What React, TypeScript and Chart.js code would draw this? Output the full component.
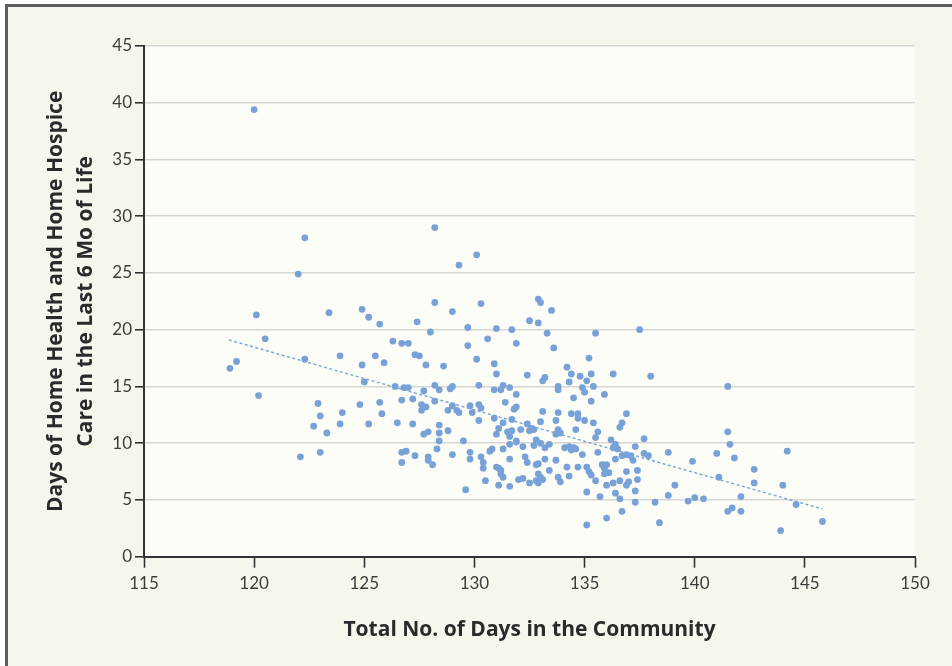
import React, { useEffect, useRef } from "react";
import { Chart, registerables } from "chart.js";

Chart.register(...registerables);

const X_MIN = 115;
const X_MAX = 150;
const X_STEP = 5;
const Y_MIN = 0;
const Y_MAX = 45;
const Y_STEP = 5;

const xTitle = "Total No. of Days in the Community";
const yTitle = ["Days of Home Health and Home Hospice", "Care in the Last 6 Mo of Life"];

const communityDays = [
  120.0, 122.3, 128.2, 122.0, 129.3, 120.1, 123.4, 124.9, 125.2, 128.2, 129.0, 127.4,
  130.1, 130.3, 132.9, 133.0, 133.5, 132.5, 132.9, 129.7, 131.0, 131.7, 133.3, 135.5,
  137.5, 130.6, 129.7, 131.9, 133.6, 130.1, 130.9, 128.6, 134.2, 135.2, 134.4, 134.8,
  135.3, 136.3, 131.0, 132.4, 133.2, 135.1,
  135.4, 129.0, 128.9, 128.4, 130.2, 130.9, 131.2, 131.3, 131.6, 131.9, 133.1, 133.8,
  133.8, 134.3, 134.9, 135.0, 135.9, 134.5, 135.3, 131.4, 129.8, 130.2, 130.3, 129.9,
  129.0, 129.2, 129.3, 128.8, 131.8, 131.9, 130.9, 130.2, 131.7, 133.1, 133.8, 133.7,
  134.4, 134.7, 134.7, 135.0, 135.4, 136.9, 136.7, 136.6, 133.0, 132.4, 132.6, 132.7,
  132.5, 132.1, 131.3, 131.1, 131.0, 131.5, 131.7, 131.6, 131.9, 133.8, 133.7, 133.9,
  134.6, 135.6, 135.5, 136.2, 136.3, 136.5, 137.3, 128.4, 128.4, 128.8, 129.5, 129.0,
  129.8, 129.8, 130.3, 130.4, 130.4, 130.5, 130.7, 130.8, 131.3, 131.6, 131.9, 132.2,
  131.6, 131.0, 131.1, 131.2, 131.2, 131.3, 131.1, 131.6, 132.0, 132.2, 132.5, 132.8,
  132.9, 133.0, 133.1, 132.3, 132.4, 132.7, 132.8, 133.0, 133.2, 133.4, 132.8, 132.9,
  133.2, 133.4, 132.9, 133.8, 133.9, 133.7, 134.2, 134.3, 134.1, 134.3, 134.5, 134.4,
  134.6, 134.9, 135.1, 135.2, 135.3, 134.7, 135.5, 135.6, 135.8, 135.9, 136.0, 136.1,
  135.9, 136.4, 136.7, 136.9, 137.1, 137.2, 136.9, 137.4, 136.0, 136.3, 136.6, 136.9,
  137.0, 137.3, 137.4, 136.4, 136.6, 137.3, 129.6, 135.1, 135.7, 136.7, 136.0, 135.1,
  128.4,
  125.7, 128.0, 120.5, 118.9, 119.2, 120.2, 122.3, 123.9, 124.9, 125.5, 125.9, 126.3,
  126.7, 127.0, 127.3, 127.5, 127.8, 125.0, 126.4, 126.8, 127.0, 127.7, 128.2, 126.7,
  127.2, 127.6, 127.7, 127.8, 127.6, 128.2, 122.9, 123.0, 124.0, 124.8, 125.7, 125.8,
  122.7, 123.3, 123.9, 125.2, 126.5, 127.2, 127.7, 127.9, 128.3, 126.7, 126.9, 127.3,
  126.7, 127.9, 127.9, 128.1, 122.1, 123.0,
  138.0, 141.5, 141.5, 137.7, 136.4, 141.6, 138.8, 141.0, 144.2, 141.8, 139.9, 137.7,
  137.9, 142.7, 141.1, 142.7, 144.0, 139.1, 138.8, 139.7, 140.0, 140.4, 138.2, 142.1,
  141.5, 141.7, 142.1, 144.6, 138.4, 143.9, 145.8,
];

const homeCareDays = [
  39.4, 28.1, 29.0, 24.9, 25.7, 21.3, 21.5, 21.8, 21.1, 22.4, 21.6, 20.7,
  26.6, 22.3, 22.7, 22.4, 21.7, 20.8, 20.6, 20.2, 20.1, 20.0, 19.7, 19.7,
  20.0, 19.2, 18.6, 18.8, 18.4, 17.4, 17.0, 16.8, 16.7, 17.5, 16.1, 15.9,
  16.1, 16.1, 16.1, 16.0, 15.8, 15.5,
  15.0, 15.0, 14.8, 14.7, 15.1, 14.7, 14.7, 15.1, 14.9, 14.3, 15.5, 15.0,
  14.7, 15.4, 14.9, 14.5, 14.3, 14.0, 13.7, 13.6, 13.3, 13.4, 13.1, 12.7,
  13.3, 12.9, 12.7, 12.9, 13.0, 13.2, 12.2, 12.0, 12.1, 12.8, 12.7, 12.0,
  12.6, 12.6, 12.2, 12.0, 11.8, 12.6, 11.8, 11.4, 11.9, 11.7, 11.3, 11.2,
  11.1, 11.2, 11.8, 11.3, 10.8, 11.0, 11.1, 10.6, 10.2, 11.2, 10.8, 10.9,
  11.2, 11.0, 10.5, 10.3, 9.6, 9.5, 9.7, 10.9, 10.2, 11.1, 10.2, 9.0,
  9.2, 8.6, 8.8, 8.3, 7.8, 6.7, 9.3, 9.5, 9.5, 9.9, 10.1, 9.7,
  8.6, 7.9, 7.8, 7.6, 7.3, 7.0, 6.3, 6.2, 6.8, 6.9, 6.5, 6.7,
  6.5, 7.0, 6.8, 8.8, 8.3, 9.8, 10.3, 10.0, 9.6, 9.9, 8.1, 8.2,
  8.6, 7.6, 7.3, 7.0, 6.6, 8.5, 7.9, 7.1, 9.6, 9.7, 9.6, 9.4,
  9.5, 9.0, 7.9, 7.5, 7.2, 7.9, 6.7, 9.2, 8.1, 7.8, 8.1, 7.4,
  7.3, 8.6, 8.9, 9.0, 8.9, 8.5, 7.5, 7.6, 6.3, 6.5, 6.7, 6.3,
  6.6, 5.8, 6.8, 5.6, 5.1, 4.8, 5.9, 5.7, 5.3, 4.0, 3.4, 2.8,
  11.6,
  20.5, 19.8, 19.2, 16.6, 17.2, 14.2, 17.4, 17.7, 16.9, 17.7, 17.1, 19.0,
  18.8, 18.8, 17.8, 17.7, 16.9, 15.4, 15.0, 14.9, 14.9, 14.6, 15.1, 13.8,
  13.9, 13.4, 13.2, 13.2, 12.9, 13.7, 13.5, 12.4, 12.7, 13.4, 13.6, 12.6,
  11.5, 10.9, 11.7, 11.7, 11.8, 11.7, 10.8, 11.0, 9.5, 9.2, 9.3, 8.9,
  8.3, 8.8, 8.5, 8.1, 8.8, 9.2,
  15.9, 15.0, 11.0, 10.4, 9.9, 9.9, 9.2, 9.1, 9.3, 8.7, 8.4, 9.1,
  8.9, 7.7, 7.0, 6.5, 6.3, 6.3, 5.4, 4.9, 5.2, 5.1, 4.8, 5.3,
  4.0, 4.3, 4.0, 4.6, 3.0, 2.3, 3.1,
];

const trendX = [118.85, 145.8];
const trendY = [19.1, 4.2];

const POINT_COLOR = "#78a2d7";
const TICK_FONT = { family: "Lato", size: 17 };
const TITLE_FONT = { family: "'Open Sans'", size: 21, weight: "bold" as const, lineHeight: 1.45 };

const framePlugin = {
  id: "frame",
  beforeDraw(chart: any) {
    const { ctx, width, height, chartArea } = chart;
    ctx.save();
    ctx.fillStyle = "#ffffff";
    ctx.fillRect(0, 0, width, height);
    ctx.fillStyle = "#f7f6ed";
    ctx.fillRect(5, 4, width - 5, height - 4);
    ctx.fillStyle = "#5e5e5e";
    ctx.fillRect(5, 4, 3, height - 4);
    ctx.fillRect(5, 4, width - 5, 3);
    ctx.fillStyle = "#fdfdf8";
    ctx.fillRect(chartArea.left, chartArea.top, chartArea.right - chartArea.left, chartArea.bottom - chartArea.top);
    ctx.restore();
  },
};

export default function App() {
  const canvasRef = useRef<HTMLCanvasElement | null>(null);

  useEffect(() => {
    const canvas = canvasRef.current;
    if (!canvas) return;
    const points = communityDays.map((x, i) => ({ x, y: homeCareDays[i] }));
    const trend = trendX.map((x, i) => ({ x, y: trendY[i] }));

    const chart = new Chart(canvas, {
      type: "scatter",
      data: {
        datasets: [
          {
            type: "scatter",
            data: points,
            backgroundColor: POINT_COLOR,
            borderWidth: 0,
            pointRadius: 3.4,
            pointHoverRadius: 3.4,
            order: 1,
          } as any,
          {
            type: "line",
            data: trend,
            borderColor: POINT_COLOR,
            borderWidth: 1.4,
            borderDash: [3, 2.5],
            pointRadius: 0,
            fill: false,
            order: 2,
          } as any,
        ],
      },
      options: {
        responsive: false,
        animation: false,
        devicePixelRatio: 1,
        events: [],
        layout: { padding: { left: 0, right: 37, top: 46, bottom: 0 } },
        plugins: {
          legend: { display: false },
          tooltip: { enabled: false },
        },
        scales: {
          x: {
            type: "linear",
            min: X_MIN,
            max: X_MAX,
            ticks: {
              stepSize: X_STEP,
              font: TICK_FONT,
              color: "#3c3c3c",
              padding: 6,
              maxRotation: 0,
            },
            grid: {
              display: true,
              drawOnChartArea: false,
              drawTicks: true,
              tickLength: 11,
              tickColor: "#333333",
              tickWidth: 1.6,
            },
            border: { display: true, color: "#333333", width: 2 },
            title: {
              display: true,
              text: xTitle,
              font: TITLE_FONT,
              color: "#2a2a2a",
              padding: { top: 0, bottom: 20.5 },
            },
            afterFit: (s: any) => {
              s.height = 109.3;
            },
          },
          y: {
            type: "linear",
            min: Y_MIN,
            max: Y_MAX,
            ticks: {
              stepSize: Y_STEP,
              font: TICK_FONT,
              color: "#3c3c3c",
              padding: 3,
            },
            grid: {
              color: (c: any) => (c.tick && c.tick.value === 0 ? "rgba(0,0,0,0)" : "#d6d6d3"),
              lineWidth: 1.6,
              drawTicks: true,
              tickLength: 9,
              tickColor: "#333333",
              tickWidth: 1.6,
            },
            border: { display: true, color: "#333333", width: 2 },
            title: {
              display: true,
              text: yTitle,
              font: TITLE_FONT,
              color: "#2a2a2a",
              padding: { top: 40.5, bottom: 0 },
            },
            afterFit: (s: any) => {
              s.width = 144;
            },
          },
        },
      } as any,
      plugins: [framePlugin],
    });

    return () => {
      chart.destroy();
    };
  }, []);

  return (
    <div style={{ position: "absolute", left: 0, top: 0, width: 952, height: 666 }}>
      <canvas ref={canvasRef} width={952} height={666} style={{ display: "block" }} />
    </div>
  );
}
